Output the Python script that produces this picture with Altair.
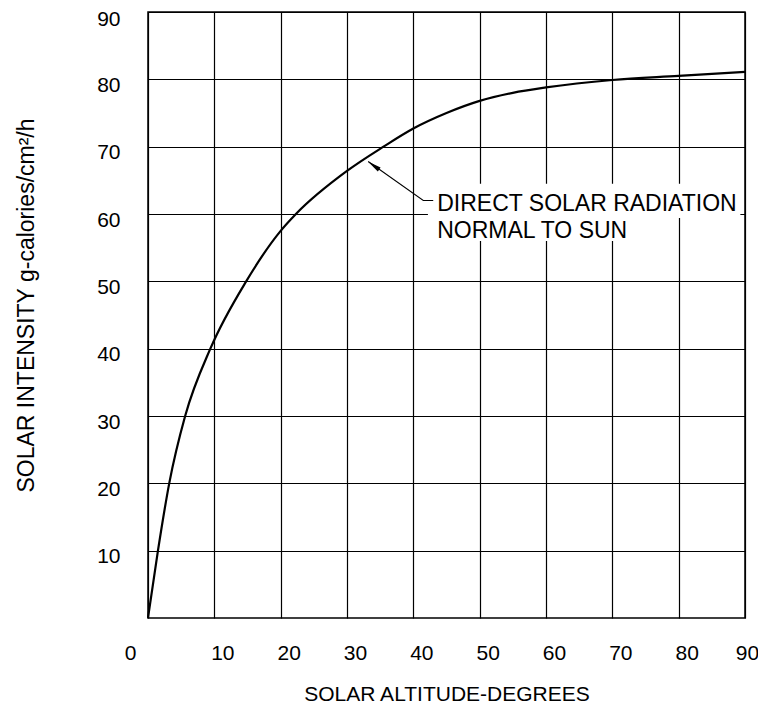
import altair as alt
import pandas as pd

# Curve (solar altitude in degrees -> intensity)
altitude = [0, 1.5, 3.2, 5.6, 9.4, 14.8, 20, 22.3, 30, 35.5, 40, 45, 50, 55, 60, 70, 80, 90]
intensity = [0, 10, 20, 30, 40, 50, 57.5, 60, 66.4, 70, 72.7, 75.0, 76.8, 78.0, 78.8, 79.9, 80.5, 81.1]

x_ticks = [0, 10, 20, 30, 40, 50, 60, 70, 80, 90]
y_ticks = [10, 20, 30, 40, 50, 60, 70, 80, 90]

label_lines = ["DIRECT SOLAR RADIATION", "NORMAL TO SUN"]
label_x = [43.6, 43.6]
label_y = [60.4, 56.4]

# white background boxes behind the label text
box_x = [42.2, 42.2]
box_x2 = [89.3, 74.2]
box_y = [59.4, 56.0]
box_y2 = [64.5, 59.4]

# leader line from the curve to the label
leader_x = [33.2, 41.5, 43.0]
leader_y = [67.8, 62.0, 62.0]
head_x = [34.0]
head_y = [67.2]

FONT = "Liberation Sans"

curve_df = pd.DataFrame({"alt": altitude, "val": intensity})
label_df = pd.DataFrame({"x": label_x, "y": label_y, "t": label_lines})
box_df = pd.DataFrame({"x": box_x, "x2": box_x2, "y": box_y, "y2": box_y2})
leader_df = pd.DataFrame({"x": leader_x, "y": leader_y, "o": list(range(len(leader_x)))})
head_df = pd.DataFrame({"x": head_x, "y": head_y})

xscale = alt.Scale(domain=[0, 90], nice=False, zero=False)
yscale = alt.Scale(domain=[0, 90], nice=False, zero=False)

x_axis = alt.Axis(
    values=x_ticks,
    title="SOLAR ALTITUDE-DEGREES",
    ticks=False,
    domain=False,
    grid=True,
    labelFlush=False,
    labelPadding=24,
    labelOffset={
        "condition": [
            {"test": "datum.value == 0", "value": -18},
            {"test": "datum.value == 90", "value": 2},
        ],
        "value": 8,
    },
    titleY=82,
    titleBaseline="alphabetic",
)
y_axis = alt.Axis(
    values=y_ticks,
    title="SOLAR INTENSITY g-calories/cm²/h",
    ticks=False,
    domain=False,
    grid=True,
    labelFlush=False,
    labelPadding=28,
    labelBaseline="middle",
    labelOffset={
        "condition": {"test": "datum.value == 90", "value": 7},
        "value": 6,
    },
    titleX=-115,
    titleY=293,
    titleBaseline="alphabetic",
)


def X(field):
    return alt.X(field, type="quantitative", scale=xscale, axis=x_axis)


def Y(field):
    return alt.Y(field, type="quantitative", scale=yscale, axis=y_axis)


curve = alt.Chart(curve_df).mark_line(
    color="black", strokeWidth=2.2, interpolate="monotone"
).encode(x=X("alt"), y=Y("val"))

boxes = alt.Chart(box_df).mark_rect(fill="white").encode(
    x=X("x"), x2="x2:Q", y=Y("y"), y2="y2:Q"
)

texts = alt.Chart(label_df).mark_text(
    align="left", baseline="alphabetic", font=FONT, fontSize=23, color="black"
).encode(x=X("x"), y=Y("y"), text="t:N")

leader = alt.Chart(leader_df).mark_line(color="black", strokeWidth=1.1).encode(
    x=X("x"), y=Y("y"), order="o:Q"
)

head = alt.Chart(head_df).mark_point(
    shape="M0,-1L0.35,1L-0.35,1Z", filled=True, color="black", opacity=1,
    size=190, angle=304.6,
).encode(x=X("x"), y=Y("y"))

chart = alt.layer(curve, boxes, texts, leader, head).properties(
    width=597,
    height=606,
    autosize=alt.AutoSizeParams(type="none"),
    padding={"left": 140, "top": 4, "right": 13, "bottom": 88},
).configure_view(
    stroke="black", strokeWidth=1.5
).configure_axis(
    gridColor="black",
    gridWidth=1.2,
    gridOpacity=1,
    labelFont=FONT,
    labelFontSize=21,
    labelColor="black",
    titleFont=FONT,
    titleFontWeight="normal",
    titleColor="black",
).configure_axisX(
    titleFontSize=21,
).configure_axisY(
    titleFontSize=23,
)

chart.save("out.html", embed_options={"renderer": "svg", "actions": False})
